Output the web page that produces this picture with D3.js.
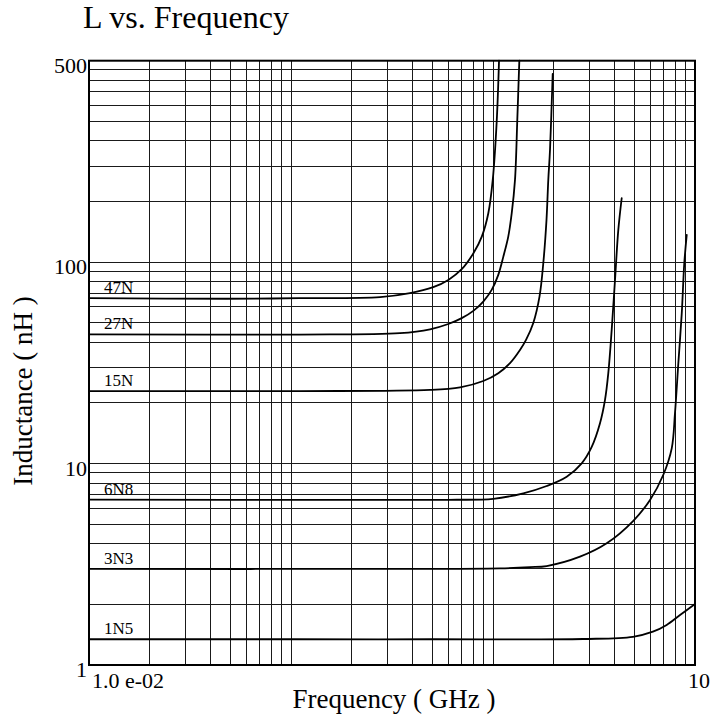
<!DOCTYPE html>
<html>
<head>
<meta charset="utf-8">
<script src="https://cdn.jsdelivr.net/npm/d3@7"></script>
<style>
    html, body { margin: 0; padding: 0; background: #ffffff; }
    svg { display: block; }
    svg text { font-family: "Liberation Serif", "Times New Roman", serif; }
</style>
</head>
<body>
<div id="chart"></div>
<script>
(function () {
    "use strict";

    // Series (frequency in GHz, inductance in nH)
    const seriesNames = ["47N", "27N", "15N", "6N8", "3N3", "1N5"];

    const freq47N = [0.01, 0.048, 0.11, 0.276, 0.388, 0.506, 0.601, 0.70, 0.80, 0.88, 0.948, 0.997, 1.043, 1.071];
    const ind47N = [66.2, 65.8, 66.2, 67.0, 70.1, 75.1, 81.6, 92.2, 110.7, 133.9, 174.9, 255.9, 498, 1000];

    const freq27N = [0.01, 0.11, 0.346, 0.488, 0.601, 0.70, 0.799, 0.895, 0.985, 1.062, 1.125, 1.19, 1.238, 1.285, 1.319, 1.35];
    const ind27N = [43.8, 43.7, 44.4, 46.4, 49.3, 52.7, 57.3, 63.7, 72.8, 86.4, 106.5, 133.9, 174.9, 255.9, 508, 1000];

    const freq15N = [0.01, 0.11, 0.488, 0.687, 0.895, 1.062, 1.214, 1.36, 1.457, 1.583, 1.699, 1.774, 1.84, 1.878, 1.915, 1.975];
    const ind15N = [22.9, 22.9, 23.2, 23.9, 25.7, 28.1, 31.5, 36.6, 41.1, 49.9, 67.4, 98.7, 162, 255.9, 360.6, 860];

    const freq6N8 = [0.01, 0.2, 0.6, 1.003, 1.413, 1.844, 2.317, 2.749, 3.081, 3.386, 3.585, 3.722, 3.869, 4.018, 4.172, 4.336];
    const ind6N8 = [6.62, 6.60, 6.61, 6.68, 7.12, 7.74, 8.61, 10.03, 12.1, 15.85, 20.7, 28.1, 46.1, 81.6, 144.5, 207.6];

    const freq3N3 = [0.01, 0.3, 1.083, 1.525, 1.844, 2.696, 3.655, 4.95, 5.99, 6.97, 7.67, 7.96, 8.27, 8.60, 8.85, 9.10];
    const ind3N3 = [3.0, 3.0, 3.02, 3.06, 3.10, 3.45, 4.02, 5.2, 6.6, 8.8, 11.9, 17.8, 31.5, 55.8, 98.7, 136.5];

    const freq1N5 = [0.01, 0.1, 0.5, 2.79, 4.93, 6.19, 7.24, 8.43, 10];
    const ind1N5 = [1.342, 1.342, 1.342, 1.346, 1.38, 1.463, 1.58, 1.77, 2.01];

    const xTickValues = [0.01, 10];
    const xTickLabels = ["1.0 e-02", "10"];
    const yTickValues = [1, 10, 100, 1000];
    const yTickLabels = ["1", "10", "100", "500"];

    const seriesFreq = [freq47N, freq27N, freq15N, freq6N8, freq3N3, freq1N5];
    const seriesInd = [ind47N, ind27N, ind15N, ind6N8, ind3N3, ind1N5];

    const d3 = window.d3;
    const width = 715;
    const height = 724;
    const margin = { top: 60.7, right: 20, bottom: 59, left: 89 };

    const svg = d3.select("#chart")
        .append("svg")
        .attr("width", width)
        .attr("height", height)
        .attr("viewBox", [0, 0, width, height]);

    svg.append("rect")
        .attr("width", width)
        .attr("height", height)
        .attr("fill", "#ffffff");

    const x = d3.scaleLog()
        .domain([0.01, 10])
        .range([margin.left, width - margin.right]);

    const y = d3.scaleLog()
        .domain([1, 1000])
        .range([height - margin.bottom, margin.top]);

    // Log grid, every minor step
    const grid = svg.append("g")
        .attr("stroke", "#1a1a1a")
        .attr("stroke-width", 1)
        .attr("shape-rendering", "crispEdges");

    grid.selectAll("line.vx")
        .data(x.ticks())
        .join("line")
        .attr("class", "vx")
        .attr("x1", (d) => x(d))
        .attr("x2", (d) => x(d))
        .attr("y1", y(1))
        .attr("y2", y(1000));

    grid.selectAll("line.hy")
        .data(y.ticks())
        .join("line")
        .attr("class", "hy")
        .attr("x1", x(0.01))
        .attr("x2", x(10))
        .attr("y1", (d) => y(d))
        .attr("y2", (d) => y(d));

    // Catmull-Rom in screen space keeps the near-vertical resonance rise smooth
    const line = d3.line()
        .x((d) => x(d.f))
        .y((d) => y(d.l))
        .curve(d3.curveCatmullRom.alpha(0.5));

    const curves = svg.append("g");

    seriesNames.forEach((name, i) => {
        const points = seriesFreq[i].map((f, k) => ({ f, l: seriesInd[i][k] }));

        curves.append("path")
            .datum(points)
            .attr("fill", "none")
            .attr("stroke", "#000000")
            .attr("stroke-width", 1.8)
            .attr("stroke-linecap", "round")
            .attr("d", line);

        curves.append("text")
            .attr("x", x(0.01) + 15)
            .attr("y", y(points[0].l) - 5)
            .attr("fill", "#000000")
            .style("font-size", "17px")
            .text(name);
    });

    // Plot frame
    svg.append("rect")
        .attr("x", x(0.01))
        .attr("y", y(1000))
        .attr("width", x(10) - x(0.01))
        .attr("height", y(1) - y(1000))
        .attr("fill", "none")
        .attr("stroke", "#000000")
        .attr("stroke-width", 2);

    // Tick labels
    svg.append("g")
        .selectAll("text")
        .data(yTickValues)
        .join("text")
        .attr("x", x(0.01) - 2)
        .attr("y", (d) => y(d) + 12)
        .attr("text-anchor", "end")
        .style("font-size", "22px")
        .text((d, i) => yTickLabels[i]);

    svg.append("g")
        .selectAll("text")
        .data(xTickValues)
        .join("text")
        .attr("x", (d, i) => (i === 0 ? x(d) + 3 : x(d) - 7))
        .attr("y", y(1) + 23)
        .attr("text-anchor", "start")
        .style("font-size", "22px")
        .text((d, i) => xTickLabels[i]);

    // Titles
    svg.append("text")
        .attr("x", 83)
        .attr("y", 28)
        .style("font-size", "32px")
        .text("L vs. Frequency");

    svg.append("text")
        .attr("x", 394)
        .attr("y", 708)
        .attr("text-anchor", "middle")
        .style("font-size", "27px")
        .text("Frequency ( GHz )");

    svg.append("text")
        .attr("transform", "translate(32,391) rotate(-90)")
        .attr("text-anchor", "middle")
        .style("font-size", "27px")
        .text("Inductance ( nH )");
})();
</script>
</body>
</html>
